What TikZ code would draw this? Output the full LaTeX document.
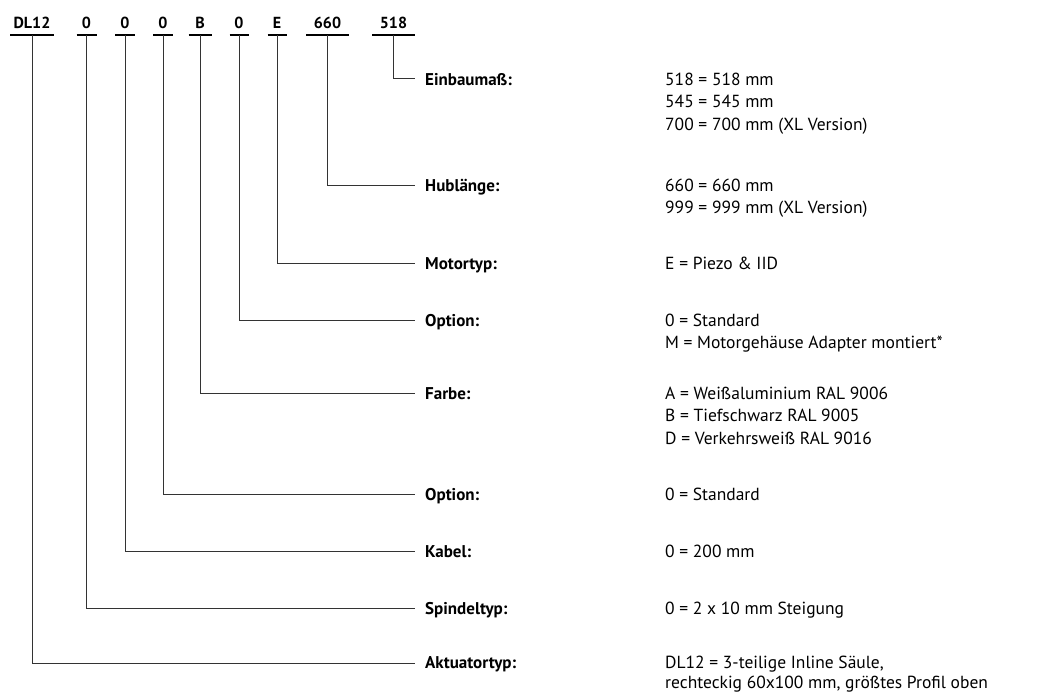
\documentclass[tikz,border=0pt]{standalone}
\usepackage{fontspec}
\setmainfont{PT Sans}
\usetikzlibrary{calc}
\begin{document}
\begin{tikzpicture}[x=1pt,y=-1pt,
  every node/.style={inner sep=0pt, font=\fontsize{17.5}{22.5}\selectfont},
  code/.style={anchor=base, font=\fontsize{16}{23}\selectfont\bfseries},
  lab/.style={anchor=base west, font=\fontsize{17}{22.5}\selectfont\bfseries},
  val/.style={anchor=base west},
  ln/.style={line width=1pt, draw=black!80},
  ul/.style={line width=1.3pt, draw=black}]
\useasboundingbox (0,0) rectangle (1050,693);
% code row
\node[code] (c1) at (32,29) {DL12};
\node[code] (c2) at (86.5,29) {0};
\node[code] (c3) at (125,29) {0};
\node[code] (c4) at (163,29) {0};
\node[code] (c5) at (200,29) {B};
\node[code] (c6) at (239,29) {0};
\node[code] (c7) at (277,29) {E};
\node[code] (c8) at (327.5,29) {660};
\node[code] (c9) at (393.5,29) {518};
% underlines
\foreach \n/\x/\w in {1/32/22, 2/86.5/10, 3/125/10, 4/163/10, 5/200/11.5, 6/239/9.5, 7/277/9.5, 8/327.5/21.5, 9/393.5/21.5}{
  \coordinate (u\n) at (\x,35);
  \draw[ul] ($(u\n)+(-\w,0)$) -- ($(u\n)+(\w,0)$);
}
% line ends
\foreach \n/\y in {9/79, 8/185, 7/263, 6/320, 5/393, 4/494, 3/551, 2/608, 1/663}{
  \coordinate (e\n) at (415,\y);
  \draw[ln] (u\n) |- (e\n);
}
% labels
\node[lab] (l9) at (425,85) {Einbaumaß:};
\node[lab] (l8) at (425,191) {Hublänge:};
\node[lab] (l7) at (425,269) {Motortyp:};
\node[lab] (l6) at (425,326) {Option:};
\node[lab] (l5) at (425,399) {Farbe:};
\node[lab] (l4) at (425,500) {Option:};
\node[lab] (l3) at (425,557) {Kabel:};
\node[lab] (l2) at (425,614) {Spindeltyp:};
\node[lab] (l1) at (425,668) {Aktuatortyp:};
% values
\node[val] (v9) at (665,85) {\begin{tabular}[t]{@{}l@{}}518 = 518 mm\\545 = 545 mm\\700 = 700 mm (XL Version)\end{tabular}};
\node[val] (v8) at (665,191) {\begin{tabular}[t]{@{}l@{}}660 = 660 mm\\999 = 999 mm (XL Version)\end{tabular}};
\node[val] (v7) at (665,269) {E = Piezo \& IID};
\node[val] (v6) at (665,326) {\begin{tabular}[t]{@{}l@{}}0 = Standard\\M = Motorgehäuse Adapter montiert*\end{tabular}};
\node[val] (v5) at (665,399) {\begin{tabular}[t]{@{}l@{}}A = Weißaluminium RAL 9006\\B = Tiefschwarz RAL 9005\\D = Verkehrsweiß RAL 9016\end{tabular}};
\node[val] (v4) at (665,500) {0 = Standard};
\node[val] (v3) at (665,557) {0 = 200 mm};
\node[val] (v2) at (665,614) {0 = 2 x 10 mm Steigung};
\node[val, font=\fontsize{17.5}{20.5}\selectfont] (v1) at (665,668) {\begin{tabular}[t]{@{}l@{}}DL12 = 3-teilige Inline Säule,\\rechteckig 60x100 mm, größtes Profil oben\end{tabular}};
\end{tikzpicture}
\end{document}
